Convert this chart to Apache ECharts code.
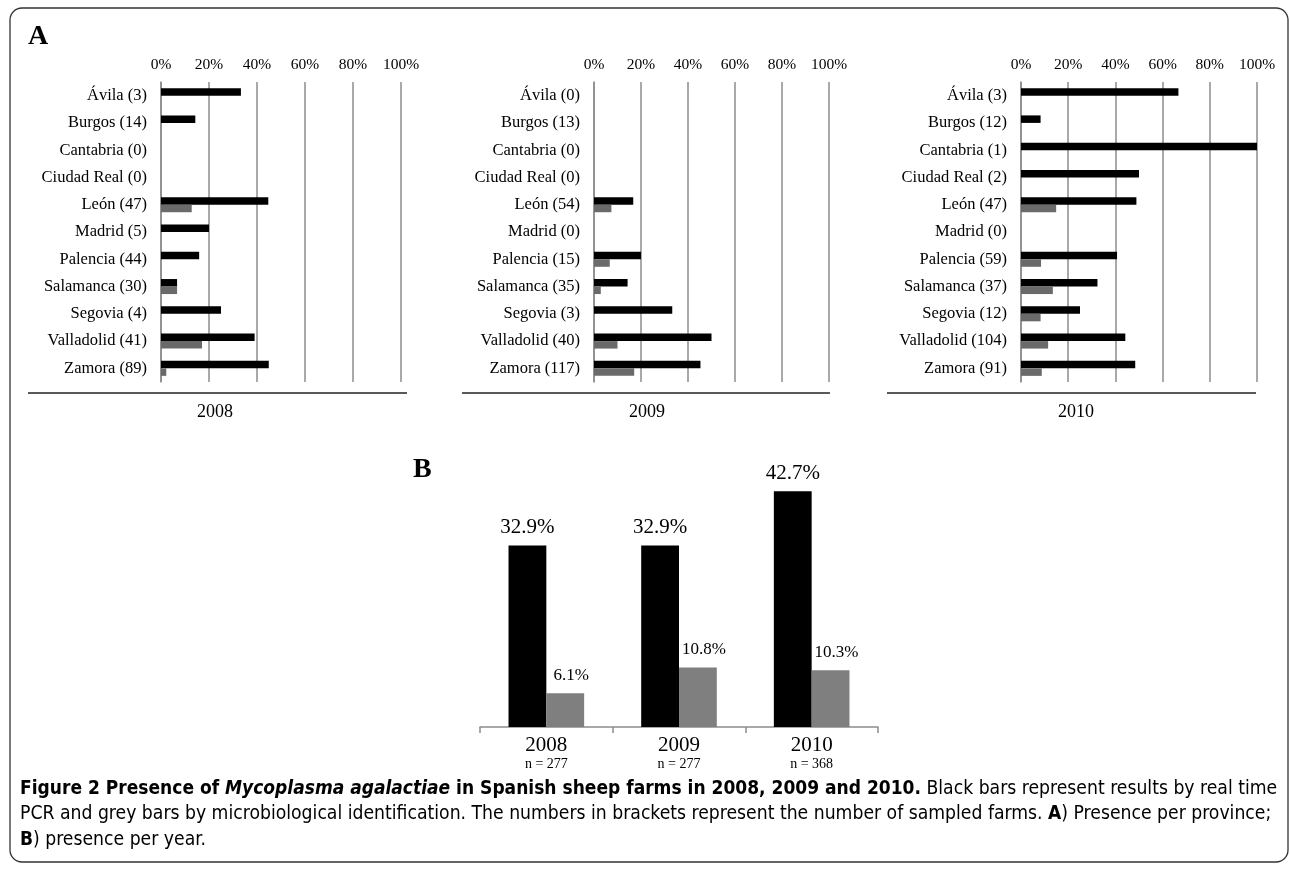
<!DOCTYPE html>
<html>
<head>
<meta charset="utf-8">
<script src="https://cdn.jsdelivr.net/npm/echarts@6/dist/echarts.min.js"></script>
<style>
html,body{margin:0;padding:0;background:#fff;}
#c{width:1290px;height:869px;}
</style>
</head>
<body>
<div id="c"></div>
<script>
// ---- data ----
const provinces2008 = ['Ávila (3)', 'Burgos (14)', 'Cantabria (0)', 'Ciudad Real (0)', 'León (47)', 'Madrid (5)', 'Palencia (44)', 'Salamanca (30)', 'Segovia (4)', 'Valladolid (41)', 'Zamora (89)'];
const pcr2008 = [33.3, 14.3, 0, 0, 44.7, 20, 15.9, 6.7, 25, 39.0, 44.9];
const micro2008 = [0, 0, 0, 0, 12.8, 0, 0, 6.7, 0, 17.1, 2.2];

const provinces2009 = ['Ávila (0)', 'Burgos (13)', 'Cantabria (0)', 'Ciudad Real (0)', 'León (54)', 'Madrid (0)', 'Palencia (15)', 'Salamanca (35)', 'Segovia (3)', 'Valladolid (40)', 'Zamora (117)'];
const pcr2009 = [0, 0, 0, 0, 16.7, 0, 20, 14.3, 33.3, 50, 45.3];
const micro2009 = [0, 0, 0, 0, 7.4, 0, 6.7, 2.9, 0, 10, 17.1];

const provinces2010 = ['Ávila (3)', 'Burgos (12)', 'Cantabria (1)', 'Ciudad Real (2)', 'León (47)', 'Madrid (0)', 'Palencia (59)', 'Salamanca (37)', 'Segovia (12)', 'Valladolid (104)', 'Zamora (91)'];
const pcr2010 = [66.7, 8.3, 100, 50, 48.9, 0, 40.7, 32.4, 25, 44.2, 48.4];
const micro2010 = [0, 0, 0, 0, 14.9, 0, 8.5, 13.5, 8.3, 11.5, 8.8];

const years = ['2008', '2009', '2010'];
const nFarms = [277, 277, 368];
const pcrYear = [32.9, 32.9, 42.7];
const microYear = [6.1, 10.8, 10.3];

// ---- styling ----
const SERIF = "'Liberation Serif', 'Times New Roman', serif";
const NARROW = "'Liberation Sans Narrow', 'DejaVu Sans Condensed', sans-serif";
const BLACK = '#000000';
const GREY_A = '#6a6a6a';
const GREY_B = '#7f7f7f';
const GRIDC = '#8c8c8c';

const panels = [
  {cats: provinces2008, pcr: pcr2008, micro: micro2008, left: 161, width: 240, year: years[0], cx: 215, lx1: 28, lx2: 407},
  {cats: provinces2009, pcr: pcr2009, micro: micro2009, left: 594, width: 235, year: years[1], cx: 647, lx1: 462, lx2: 830},
  {cats: provinces2010, pcr: pcr2010, micro: micro2010, left: 1021, width: 236, year: years[2], cx: 1076, lx1: 887, lx2: 1256}
];

const grid = [], xAxis = [], yAxis = [], series = [], graphic = [];

panels.forEach((p, i) => {
  grid.push({left: p.left, top: 82, width: p.width, height: 300, containLabel: false});
  xAxis.push({
    type: 'value', gridIndex: i, position: 'top', min: 0, max: 100, interval: 20,
    axisLine: {show: false}, axisTick: {show: false},
    axisLabel: {formatter: '{value}%', fontFamily: SERIF, fontSize: 15.5, color: '#000', margin: 9},
    splitLine: {show: true, lineStyle: {color: GRIDC, width: 1.5}}
  });
  yAxis.push({
    type: 'category', gridIndex: i, inverse: true, data: p.cats,
    axisLine: {show: true, lineStyle: {color: GRIDC, width: 1.5}},
    axisTick: {show: false},
    axisLabel: {fontFamily: SERIF, fontSize: 16.5, color: '#000', margin: 14}
  });
  series.push({
    type: 'bar', xAxisIndex: i, yAxisIndex: i, data: p.pcr, name: 'PCR',
    itemStyle: {color: BLACK}, barGap: '0%', barCategoryGap: '45%', silent: true
  });
  series.push({
    type: 'bar', xAxisIndex: i, yAxisIndex: i, data: p.micro, name: 'Micro',
    itemStyle: {color: GREY_A}, barGap: '0%', barCategoryGap: '45%', silent: true
  });
  graphic.push({type: 'line', shape: {x1: p.lx1, y1: 393, x2: p.lx2, y2: 393}, style: {stroke: '#222', lineWidth: 1.5}});
  graphic.push({type: 'text', x: p.cx, y: 412, style: {text: p.year, font: '18px ' + SERIF, fill: '#000', align: 'center', verticalAlign: 'middle'}});
});

// Panel B
grid.push({left: 480, top: 451, width: 398, height: 276});
xAxis.push({
  type: 'category', gridIndex: 3, data: years,
  axisLine: {show: true, lineStyle: {color: GRIDC, width: 1.5}},
  axisTick: {show: true, length: 6, lineStyle: {color: GRIDC, width: 1.5}},
  axisLabel: {
    margin: 7,
    formatter: (v, idx) => '{y|' + v + '}\n{n|n = ' + nFarms[idx] + '}',
    rich: {
      y: {fontFamily: SERIF, fontSize: 21, color: '#000', lineHeight: 22},
      n: {fontFamily: SERIF, fontSize: 14, color: '#000', lineHeight: 16}
    }
  }
});
yAxis.push({type: 'value', gridIndex: 3, min: 0, max: 50, show: false, splitLine: {show: false}});
series.push({
  type: 'bar', xAxisIndex: 3, yAxisIndex: 3, data: pcrYear, name: 'PCR',
  itemStyle: {color: BLACK}, barGap: '0%', barCategoryGap: '43%', silent: true,
  label: {show: true, position: 'top', distance: 7, formatter: '{c}%', fontFamily: SERIF, fontSize: 21, color: '#000'}
});
series.push({
  type: 'bar', xAxisIndex: 3, yAxisIndex: 3, data: microYear, name: 'Micro',
  itemStyle: {color: GREY_B}, barGap: '0%', barCategoryGap: '43%', silent: true,
  label: {show: true, position: 'top', distance: 9, offset: [6, 0], formatter: '{c}%', fontFamily: SERIF, fontSize: 17, color: '#000'}
});

// Panel letters, frame and caption
graphic.push({type: 'rect', shape: {x: 10, y: 8, width: 1278, height: 854, r: 12}, style: {fill: 'none', stroke: '#333', lineWidth: 1.3}, z: -10});
graphic.push({type: 'text', x: 28, y: 37, style: {text: 'A', font: 'bold 28px ' + SERIF, fill: '#000', verticalAlign: 'middle'}});
graphic.push({type: 'text', x: 413, y: 470, style: {text: 'B', font: 'bold 28px ' + SERIF, fill: '#000', verticalAlign: 'middle'}});

const capRich = {
  b: {fontFamily: NARROW, fontWeight: 'bold', fontSize: 19, color: '#1f1f1f'},
  bi: {fontFamily: NARROW, fontWeight: 'bold', fontStyle: 'italic', fontSize: 19, color: '#1f1f1f'},
  r: {fontFamily: NARROW, fontSize: 19.2, color: '#555555'}
};
const capLines = [
  '{b|Figure 2 Presence of }{bi|Mycoplasma agalactiae}{b| in Spanish sheep farms in 2008, 2009 and 2010.}{r| Black bars represent results by real time}',
  '{r|PCR and grey bars by microbiological identification. The numbers in brackets represent the number of sampled farms. }{b|A}{r|) Presence per province;}',
  '{b|B}{r|) presence per year.}'
];
capLines.forEach((t, k) => {
  graphic.push({type: 'text', x: 20, y: 789 + k * 25.5, style: {text: t, rich: capRich, verticalAlign: 'middle'}});
});

const chart = echarts.init(document.getElementById('c'), null, {renderer: 'canvas'});
chart.setOption({
  animation: false,
  backgroundColor: '#fff',
  grid, xAxis, yAxis, series, graphic
});
</script>
</body>
</html>
